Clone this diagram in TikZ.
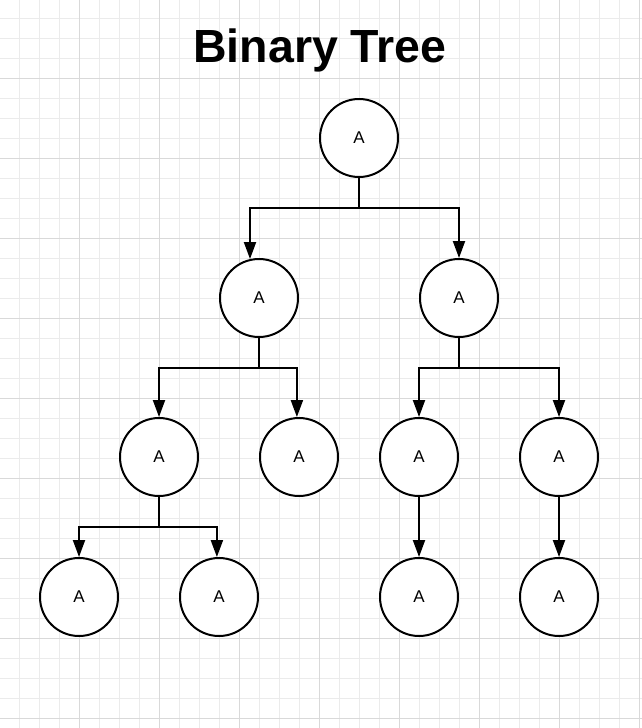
\documentclass[tikz,border=0pt]{standalone}
\usepackage{fontspec}
\setmainfont{Liberation Sans}
\usetikzlibrary{arrows.meta}
\begin{document}
\begin{tikzpicture}[x=1pt,y=-1pt,
  treenode/.style={circle,draw=black,line width=2pt,fill=white,minimum size=78pt,inner sep=0pt,font=\fontsize{17}{17}\selectfont},
  arr/.style={line width=2pt,-{Triangle[length=17pt,width=12pt]}},
  minorgrid/.style={draw={rgb,255:red,235;green,235;blue,235},line width=0.8pt},
  majorgrid/.style={draw={rgb,255:red,217;green,217;blue,217},line width=0.8pt}]
\useasboundingbox (0,0) rectangle (642,728);
\fill[white] (0,0) rectangle (642,728);
\foreach \k in {1,...,32} {\draw[minorgrid] (20*\k-0.5,0) -- (20*\k-0.5,728);}
\foreach \k in {1,...,36} {\draw[minorgrid] (0,20*\k-1.5) -- (642,20*\k-1.5);}
\foreach \k in {1,...,8} {\draw[majorgrid] (80*\k-0.5,0) -- (80*\k-0.5,728);}
\foreach \k in {1,...,9} {\draw[majorgrid] (0,80*\k-1.5) -- (642,80*\k-1.5);}
\node[font=\fontsize{46.5}{46.5}\selectfont\bfseries,anchor=base] (title) at (320,62) {Binary Tree};
\node[treenode] (r) at (359,138) {A};
\node[treenode] (l) at (259,298) {A};
\node[treenode] (rr) at (459,298) {A};
\node[treenode] (ll) at (159,457) {A};
\node[treenode] (lr) at (299,457) {A};
\node[treenode] (rl) at (419,457) {A};
\node[treenode] (rrr) at (559,457) {A};
\node[treenode] (lll) at (79,597) {A};
\node[treenode] (llr) at (219,597) {A};
\node[treenode] (rll) at (419,597) {A};
\node[treenode] (rrrr) at (559,597) {A};
\coordinate (h1) at (0,208);
\coordinate (h2) at (0,368);
\coordinate (h3) at (0,527);
\draw[arr] (r.south) -- (r.south |- h1) -| (l.103);
\draw[arr] (r.south) -- (r.south |- h1) -| (rr.north);
\draw[arr] (l.south) -- (l.south |- h2) -| (ll.north);
\draw[arr] (l.south) -- (l.south |- h2) -| (lr.93);
\draw[arr] (rr.south) -- (rr.south |- h2) -| (rl.north);
\draw[arr] (rr.south) -- (rr.south |- h2) -| (rrr.north);
\draw[arr] (ll.south) -- (ll.south |- h3) -| (lll.north);
\draw[arr] (ll.south) -- (ll.south |- h3) -| (llr.93);
\draw[arr] (rl.south) -- (rll.north);
\draw[arr] (rrr.south) -- (rrrr.north);
\end{tikzpicture}
\end{document}
